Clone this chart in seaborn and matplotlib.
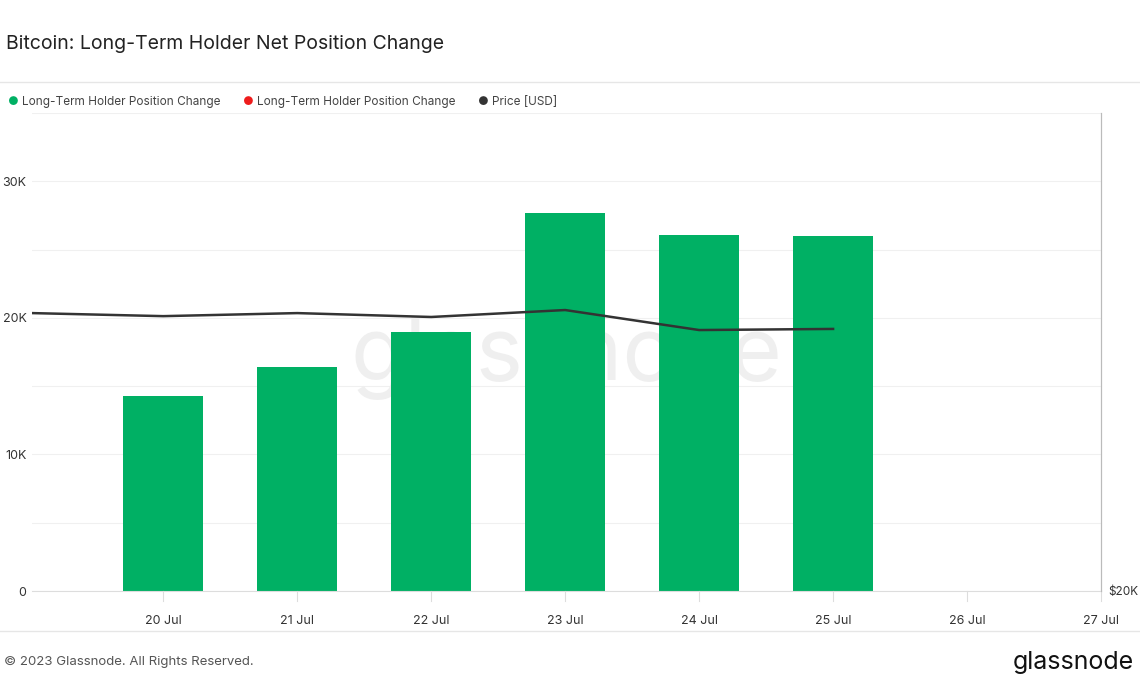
import matplotlib
matplotlib.use("Agg")
import matplotlib.pyplot as plt
import seaborn as sns
import pandas as pd

bar_days = [1, 2, 3, 4, 5, 6]
bar_values = [14300, 16400, 19000, 27700, 26100, 26000]
price_days = [0.02, 1, 2, 3, 4, 5, 6]
price_values = [30000, 29890, 30000, 29860, 30110, 29390, 29430]
tick_days = [1, 2, 3, 4, 5, 6, 7, 8]
tick_labels = ["20 Jul", "21 Jul", "22 Jul", "23 Jul", "24 Jul", "25 Jul", "26 Jul", "27 Jul"]
ytick_vals = [0, 10000, 20000, 30000]
ytick_labels = ["0", "10K", "20K", "30K"]

plt.rcParams["font.family"] = "Inter"
W, H = 1140, 694
fig = plt.figure(figsize=(W/100, H/100), dpi=100)
ax = fig.add_axes([32/W, (H-591)/H, (1101-32)/W, (591-113)/H])

ax.text(0.5, 0.49, "glassnode", transform=ax.transAxes, fontsize=64, color="#efefef",
        va="center", ha="center", zorder=1)
bars = pd.DataFrame({"day": bar_days, "v": bar_values})
sns.barplot(data=bars, x="day", y="v", native_scale=True, width=0.6,
            color="#00b064", saturation=1, ax=ax, zorder=2)
ax.set_xlim(0.02, 8)
ax.set_ylim(0, 35000)
for y in range(0, 35001, 5000):
    ax.axhline(y, color="#f0f0f0", lw=0.8, zorder=0)
ax.set_yticks(ytick_vals)
ax.set_yticklabels(ytick_labels)
ax.tick_params(axis="y", length=0, labelsize=9, colors="#333333", pad=4)
ax.set_xticks(tick_days)
ax.set_xticklabels(tick_labels)
ax.tick_params(axis="x", length=0, labelsize=9, colors="#333333", pad=17)
for x in tick_days:
    ax.plot([x, x], [0, -700], color="#dddddd", lw=0.8, clip_on=False)
ax.set_xlabel(""); ax.set_ylabel("")
for s in ["top", "left"]:
    ax.spines[s].set_visible(False)
ax.spines["bottom"].set_color("#dddddd")
ax.spines["right"].set_color("#bbbbbb")

ax2 = ax.twinx()
prices = pd.DataFrame({"day": price_days, "p": price_values})
sns.lineplot(data=prices, x="day", y="p", color="#333333", lw=1.8, ax=ax2)
ax2.set_ylim(20000, 37200)
ax2.set_yticks([20000]); ax2.set_yticklabels(["$20K"])
ax2.tick_params(axis="y", length=0, labelsize=8.5, colors="#333333", pad=5)
ax2.set_ylabel(""); ax2.set_xlabel("")
for s in ["top", "left", "bottom"]:
    ax2.spines[s].set_visible(False)
ax2.spines["right"].set_color("#bbbbbb")
ax2.set_xlim(0.02, 8)

fig.text(6/W, 1-44/H, "Bitcoin: Long-Term Holder Net Position Change", fontsize=14, color="#222222", va="center")
fig.add_artist(plt.Line2D([0, 1], [1-82/H]*2, color="#e6e6e6", lw=1))
fig.add_artist(plt.Line2D([0, 1], [1-631/H]*2, color="#e6e6e6", lw=1))
legend = [(8, "#00b064", "Long-Term Holder Position Change"),
          (243, "#ee1c1c", "Long-Term Holder Position Change"),
          (478, "#333333", "Price [USD]")]
for x, c, t in legend:
    fig.text(x/W, 1-102/H, "●", color=c, fontsize=8.5, va="center", ha="left")
    fig.text((x+14)/W, 1-102/H, t, color="#444444", fontsize=8.5, va="center")
fig.text(4/W, 1-662/H, "© 2023 Glassnode. All Rights Reserved.", fontsize=9.5, color="#555555", va="center")
fig.text(1134/W, 1-663/H, "glassnode", fontsize=18, color="#111111", va="center", ha="right")
fig.savefig("out.png", dpi=100)
